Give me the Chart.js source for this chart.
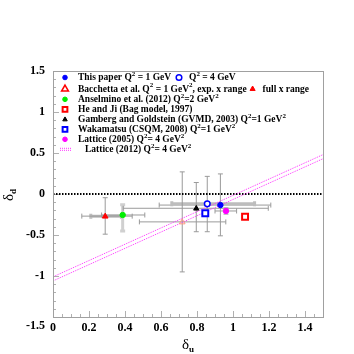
<!DOCTYPE html>
<html><head><meta charset="utf-8">
<script src="https://cdn.jsdelivr.net/npm/chart.js@4"></script>
<style>html,body{margin:0;padding:0;background:#fff}#wrap{width:354px;height:354px}</style>
</head><body><div id="wrap"><canvas id="c" width="354" height="354"></canvas></div>
<script>
// ---------- data ----------
const seriesNames = ['This paper Q2=1','This paper Q2=4','Bacchetta exp. x range','Bacchetta full x range','Anselmino 2012','He and Ji 1997','Gamberg and Goldstein 2003','Wakamatsu 2008','Lattice 2005'];
const pointX = [0.93, 0.857, 0.718, 0.29, 0.387, 1.067, 0.796, 0.846, 0.961];
const pointY = [-0.135, -0.12, -0.34, -0.27, -0.256, -0.277, -0.174, -0.235, -0.207];
const xLow  = [0.59, null, 0.48, 0.16, 0.27, null, 0.39, null, 0.90];
const xHigh = [1.21, null, 0.96, 0.44, 0.51, null, 1.196, null, 1.02];
const yLow  = [-0.51, -0.46, -0.95, -0.49, null, null, -0.46, null, -0.245];
const yHigh = [0.245, 0.215, 0.27, -0.045, null, null, 0.14, null, -0.17];
const xLowInner  = [null, 0.66, null, 0.21, null, null, null, null, null];
const xHighInner = [null, 1.12, null, 0.38, null, null, null, null, null];
const yLowInner  = [null, null, null, null, -0.45, null, null, null, null];
const yHighInner = [null, null, null, null, -0.13, null, null, null, null];
const latticeX = [0, 1.5];
const latticeUpper = [-1.01, 0.48];
const latticeLower = [-1.06, 0.43];
const zeroX = [0, 1.5];
const zeroY = [0, 0];
const xTickValues = [0, 0.2, 0.4, 0.6, 0.8, 1, 1.2, 1.4];
const yTickValues = [-1.5, -1, -0.5, 0, 0.5, 1, 1.5];

// ---------- styles ----------
const markerStyles = [
  {style:'circle', r:2.7, fill:'#0000ff', stroke:'#0000ff', w:1},
  {style:'circle', r:2.8, fill:'#ffffff', stroke:'#0000ff', w:1.5},
  {style:'triangle', r:3, fill:'rgba(255,255,255,0)', stroke:'#ff9a80', w:1},
  {style:'triangle', r:3, fill:'#ff0000', stroke:'#ff0000', w:1},
  {style:'circle', r:2.7, fill:'#00ee00', stroke:'#00ee00', w:1},
  {style:'rect', r:3.7, fill:'#ffffff', stroke:'#ff0000', w:2},
  {style:'triangle', r:2.8, fill:'#000000', stroke:'#000000', w:1},
  {style:'rect', r:3.7, fill:'#ffffff', stroke:'#0000ff', w:2},
  {style:'circle', r:2.7, fill:'#ff00ff', stroke:'#ff00ff', w:1}
];
const SERIF = '"Liberation Serif","DejaVu Serif",serif';

const datasets = [];
pointX.forEach((x,i)=>{
  const m = markerStyles[i];
  datasets.push({label:seriesNames[i], type:'scatter', data:[{x:x, y:pointY[i]}],
    pointStyle:'circle', pointRadius:0, backgroundColor:m.fill, borderColor:m.stroke,
    borderWidth:m.w, order:0});
});
datasets.push({label:'Lattice 2012 upper', type:'line', data:latticeX.map((x,i)=>({x:x,y:latticeUpper[i]})),
  borderColor:'#ff33ff', borderWidth:1, borderDash:[1,1], pointRadius:0, showLine:true, order:5});
datasets.push({label:'Lattice 2012 lower', type:'line', data:latticeX.map((x,i)=>({x:x,y:latticeLower[i]})),
  borderColor:'#ff33ff', borderWidth:1, borderDash:[1,1], pointRadius:0, showLine:true, order:5});
datasets.push({label:'zero', type:'line', data:zeroX.map((x,i)=>({x:x,y:zeroY[i]})),
  borderColor:'#000000', borderWidth:2, borderDash:[1.5,1.5], pointRadius:0, showLine:true, order:6});

function fmt(v){ return String(Math.round(v*10)/10); }

function drawMarker(ctx, m, x, y, scale){
  const r = m.r*(scale||1);
  ctx.save();
  ctx.fillStyle = m.fill; ctx.strokeStyle = m.stroke; ctx.lineWidth = m.w;
  ctx.beginPath();
  if (m.style==='circle') ctx.arc(x,y,r,0,Math.PI*2);
  else if (m.style==='rect') ctx.rect(x-r*0.8,y-r*0.8,r*1.6,r*1.6);
  else if (m.style==='triangle'){
    ctx.moveTo(x, y-r); ctx.lineTo(x+r*0.95, y+r*0.65); ctx.lineTo(x-r*0.95, y+r*0.65); ctx.closePath();
  }
  ctx.fill(); ctx.stroke();
  ctx.restore();
}

const errorBarPlugin = {
  id:'errbars',
  beforeDatasetsDraw(chart){
    const ctx = chart.ctx, xs = chart.scales.x, ys = chart.scales.y, a = chart.chartArea;
    ctx.save();
    ctx.beginPath(); ctx.rect(a.left,a.top,a.right-a.left,a.bottom-a.top); ctx.clip();
    function hbar(lo,hi,y,w,col,cap){
      const px1=xs.getPixelForValue(lo), px2=xs.getPixelForValue(hi), py=ys.getPixelForValue(y);
      ctx.strokeStyle=col; ctx.lineWidth=w; ctx.beginPath();
      ctx.moveTo(px1,py); ctx.lineTo(px2,py);
      if(cap){ ctx.moveTo(px1,py-cap); ctx.lineTo(px1,py+cap); ctx.moveTo(px2,py-cap); ctx.lineTo(px2,py+cap); }
      ctx.stroke();
    }
    function vbar(lo,hi,x,w,col,cap){
      const py1=ys.getPixelForValue(lo), py2=ys.getPixelForValue(hi), px=xs.getPixelForValue(x);
      ctx.strokeStyle=col; ctx.lineWidth=w; ctx.beginPath();
      ctx.moveTo(px,py1); ctx.lineTo(px,py2);
      if(cap){ ctx.moveTo(px-cap,py1); ctx.lineTo(px+cap,py1); ctx.moveTo(px-cap,py2); ctx.lineTo(px+cap,py2); }
      ctx.stroke();
    }
    pointX.forEach((x,i)=>{
      if (xLowInner[i]!==null) hbar(xLowInner[i],xHighInner[i],pointY[i],3,'#bdbdbd',2.5);
      if (yLowInner[i]!==null) vbar(yLowInner[i],yHighInner[i],x,3,'#d0d0d0',2.5);
      if (xLow[i]!==null) hbar(xLow[i],xHigh[i],pointY[i],1,'#9a9a9a',2.5);
      if (yLow[i]!==null) vbar(yLow[i],yHigh[i],x,1,'#9a9a9a',2.5);
    });
    ctx.restore();

    // inward axis ticks
    ctx.save();
    ctx.strokeStyle='#b0b0b0'; ctx.lineWidth=1; ctx.beginPath();
    for (let k=-15;k<=15;k++){
      const v=k/10, py=Math.round(ys.getPixelForValue(v))+0.5;
      const len = (k%5===0)?6:3;
      ctx.moveTo(a.left, py); ctx.lineTo(a.left+len, py);
    }
    for (let k=0;k<=30;k++){
      const v=k*0.05, px=Math.round(xs.getPixelForValue(v))+0.5;
      const len = (k%4===0)?6:3;
      ctx.moveTo(px, a.bottom); ctx.lineTo(px, a.bottom-len);
    }
    ctx.stroke();
    ctx.restore();
  },
  afterDatasetsDraw(chart){
    const ctx = chart.ctx, xs = chart.scales.x, ys = chart.scales.y;
    // markers drawn from the dataset element positions
    pointX.forEach((x,i)=>{
      const el = chart.getDatasetMeta(i).data[0];
      drawMarker(ctx, markerStyles[i], el.x, el.y, 1);
    });
  },
  afterDraw(chart){
    const ctx = chart.ctx, a = chart.chartArea, ys = chart.scales.y;
    // frame
    ctx.save();
    ctx.strokeStyle='#a0a0a0'; ctx.lineWidth=1;
    ctx.strokeRect(Math.round(a.left)+0.5, Math.round(a.top)+0.5, Math.round(a.right-a.left), Math.round(a.bottom-a.top));
    ctx.restore();

    // bottom y label (offset like the reference)
    ctx.save();
    ctx.font = 'bold 12px '+SERIF; ctx.fillStyle='#000'; ctx.textAlign='right'; ctx.textBaseline='middle';
    ctx.fillText('-1.5', a.left-8, ys.getPixelForValue(-1.5)+9);
    ctx.restore();

    // axis titles
    ctx.save();
    ctx.fillStyle='#000'; ctx.textBaseline='alphabetic'; ctx.textAlign='left';
    ctx.font = '15px '+SERIF;
    const wd = ctx.measureText('δ').width;
    ctx.fillText('δ', 182, 349);
    ctx.font = 'bold 9px '+SERIF;
    ctx.fillText('u', 182+wd, 352);
    ctx.translate(13, 201); ctx.rotate(-Math.PI/2);
    ctx.font = '15px '+SERIF;
    ctx.fillText('δ', 0, 0);
    ctx.font = 'bold 9px '+SERIF;
    ctx.fillText('d', wd, 3);
    ctx.restore();

    // legend
    drawLegend(ctx);
  }
};

function rich(ctx, x, y, parts){
  let cx = x;
  parts.forEach(p=>{
    if (p.sup){ ctx.font='bold 7px '+SERIF; ctx.fillText(p.t, cx, y-4); }
    else { ctx.font='bold 9.5px '+SERIF; ctx.fillText(p.t, cx, y); }
    cx += ctx.measureText(p.t).width;
  });
  return cx;
}
const T = t=>({t:t}), S = t=>({t:t, sup:true});
const legendRows = [
  [T('This paper Q'),S('2'),T(' = 1 GeV')],
  [T('Bacchetta et al. Q'),S('2'),T(' = 1 GeV'),S('2'),T(', exp. x range')],
  [T('Anselmino et al. (2012) Q'),S('2'),T('=2 GeV'),S('2')],
  [T('He and Ji (Bag model, 1997)')],
  [T('Gamberg and Goldstein (GVMD, 2003) Q'),S('2'),T('=1 GeV'),S('2')],
  [T('Wakamatsu (CSQM, 2008) Q'),S('2'),T('=1 GeV'),S('2')],
  [T('Lattice (2005) Q'),S('2'),T('= 4 GeV'),S('2')],
  [T('Lattice (2012) Q'),S('2'),T('= 4 GeV'),S('2')]
];
const legendMarkerIdx = [0,2,4,5,6,7,8,null];
function drawLegend(ctx){
  const rowsY = [77.5, 88.7, 99.3, 109.3, 119.3, 129.3, 139.3, 149.3];
  ctx.save();
  ctx.fillStyle='#000'; ctx.textBaseline='middle'; ctx.textAlign='left';
  legendRows.forEach((parts,i)=>{
    const y = rowsY[i];
    const mi = legendMarkerIdx[i];
    if (mi!==null){
      const m = Object.assign({}, markerStyles[mi]);
      let sc = 0.85;
      if (mi===2){ m.stroke='#ff0000'; m.w=1.5; sc=1.2; }
      if (mi===5 || mi===7){ sc=0.8; }
      drawMarker(ctx, m, 65, y, sc);
    } else {
      ctx.save(); ctx.strokeStyle='#ff33ff'; ctx.lineWidth=1; ctx.setLineDash([1,1]);
      ctx.beginPath(); ctx.moveTo(60,y-1); ctx.lineTo(72,y-1); ctx.moveTo(60,y+1); ctx.lineTo(72,y+1); ctx.stroke();
      ctx.restore();
    }
    ctx.fillStyle='#000';
    const x0 = (i===7)?85:78;
    const end = rich(ctx, x0, y+0.5, parts);
    if (i===0){
      drawMarker(ctx, markerStyles[1], 179, y, 1);
      ctx.fillStyle='#000';
      rich(ctx, 189, y+0.5, [T('Q'),S('2'),T(' = 4 GeV')]);
    }
    if (i===1){
      drawMarker(ctx, markerStyles[3], end+6, y, 0.9);
      ctx.fillStyle='#000';
      rich(ctx, end+16, y+0.5, [T('full x range')]);
    }
  });
  ctx.restore();
}

new Chart(document.getElementById('c'), {
  type:'scatter',
  data:{datasets:datasets},
  options:{
    responsive:false, animation:false, devicePixelRatio:1,
    layout:{padding:{left:0, top:71, right:31, bottom:0}},
    plugins:{legend:{display:false}, tooltip:{enabled:false}},
    scales:{
      x:{type:'linear', min:0, max:1.5,
        afterBuildTicks:s=>{ s.ticks = xTickValues.map(v=>({value:v})); },
        afterFit:s=>{ s.height = 37; },
        grid:{display:false, drawTicks:false}, border:{display:false},
        ticks:{color:'#000', padding:4, maxRotation:0, autoSkip:false, font:{family:SERIF, size:12, weight:'bold'}, callback:v=>fmt(v)}
      },
      y:{type:'linear', min:-1.5, max:1.5,
        afterBuildTicks:s=>{ s.ticks = yTickValues.map(v=>({value:v})); },
        afterFit:s=>{ s.width = 53; },
        grid:{display:false, drawTicks:false}, border:{display:false},
        ticks:{color:'#000', padding:8, autoSkip:false, font:{family:SERIF, size:12, weight:'bold'}, callback:v=> v===-1.5 ? '' : fmt(v)}
      }
    }
  },
  plugins:[errorBarPlugin]
});
</script></body></html>
